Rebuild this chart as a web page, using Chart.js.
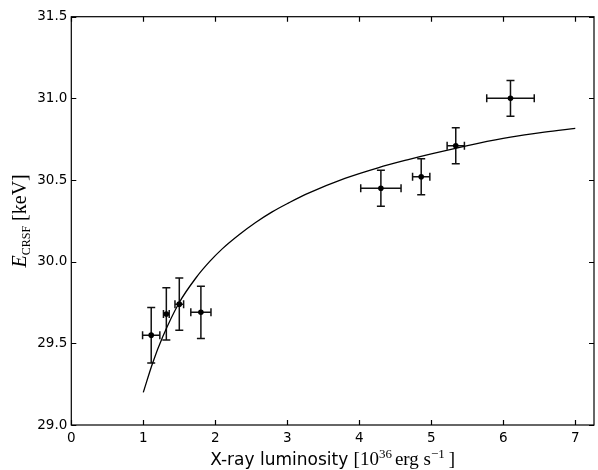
<!DOCTYPE html>
<html>
<head>
<meta charset="utf-8">
<script src="https://cdn.jsdelivr.net/npm/chart.js@4"></script>
<style>
  html, body { margin: 0; padding: 0; background: #fff; }
  #wrap { width: 598px; height: 470px; }
</style>
</head>
<body>
<div id="wrap"><canvas id="chartCrsf"></canvas></div>
<script>
// tick positions
const xTickValues = [0, 1, 2, 3, 4, 5, 6, 7];
const yTickValues = [29.0, 29.5, 30.0, 30.5, 31.0, 31.5];

// measured points: luminosity (1e36 erg/s) vs cyclotron line energy (keV)
const lumX     = [1.11, 1.32, 1.50, 1.80, 4.30, 4.86, 5.34, 6.10];
const lumErr   = [0.12, 0.04, 0.06, 0.14, 0.28, 0.12, 0.12, 0.33];
const ecrsf    = [29.55, 29.68, 29.74, 29.69, 30.45, 30.52, 30.71, 31.00];
const ecrsfErr = [0.17, 0.16, 0.16, 0.16, 0.11, 0.11, 0.11, 0.11];

// model curve
const fitX = [1.00, 1.13, 1.27, 1.50, 1.73, 1.92, 2.10, 2.33, 2.56, 2.79, 3.02, 3.27, 3.80, 4.26, 4.68, 5.00, 5.65, 6.10, 6.57, 7.00];
const fitY = [29.20, 29.38, 29.54, 29.75, 29.90, 30.00, 30.08, 30.165, 30.24, 30.305, 30.36, 30.415, 30.51, 30.575, 30.625, 30.66, 30.725, 30.763, 30.793, 30.816];

const SANS = '"DejaVu Sans", sans-serif';
const SERIF = '"Liberation Serif", "DejaVu Serif", serif';

// draws text pieces one after the other, centred on (cx, baseline)
function drawPieces(ctx, pieces, cx, baseline) {
  let total = 0;
  pieces.forEach(p => { ctx.font = p.font; p.w = ctx.measureText(p.text).width + (p.gap || 0); total += p.w; });
  let x = cx - total / 2;
  ctx.textAlign = 'left';
  ctx.textBaseline = 'alphabetic';
  pieces.forEach(p => {
    ctx.font = p.font;
    ctx.fillText(p.text, x, baseline + (p.dy || 0));
    x += p.w;
  });
}

const errorBars = {
  id: 'errorBars',
  beforeDatasetsDraw(chart) {
    const { ctx, scales: { x, y } } = chart;
    const cap = 4;
    ctx.save();
    ctx.strokeStyle = '#111';
    ctx.lineWidth = 1.5;
    lumX.forEach((lx, i) => {
      const px = x.getPixelForValue(lx);
      const py = y.getPixelForValue(ecrsf[i]);
      const x0 = x.getPixelForValue(lx - lumErr[i]);
      const x1 = x.getPixelForValue(lx + lumErr[i]);
      const y0 = y.getPixelForValue(ecrsf[i] - ecrsfErr[i]);
      const y1 = y.getPixelForValue(ecrsf[i] + ecrsfErr[i]);
      ctx.beginPath();
      ctx.moveTo(x0, py); ctx.lineTo(x1, py);
      ctx.moveTo(x0, py - cap); ctx.lineTo(x0, py + cap);
      ctx.moveTo(x1, py - cap); ctx.lineTo(x1, py + cap);
      ctx.moveTo(px, y0); ctx.lineTo(px, y1);
      ctx.moveTo(px - cap, y0); ctx.lineTo(px + cap, y0);
      ctx.moveTo(px - cap, y1); ctx.lineTo(px + cap, y1);
      ctx.stroke();
    });
    ctx.restore();
  }
};

// box frame, inward ticks on all four sides, axis titles
const frame = {
  id: 'frame',
  afterDraw(chart) {
    const { ctx, chartArea: a, scales: { x, y } } = chart;
    const tl = 5;
    ctx.save();
    ctx.strokeStyle = '#000';
    ctx.lineWidth = 1.2;
    ctx.strokeRect(a.left, a.top, a.right - a.left, a.bottom - a.top);
    ctx.beginPath();
    xTickValues.forEach(v => {
      const px = Math.round(x.getPixelForValue(v)) + 0.5;
      ctx.moveTo(px, a.bottom); ctx.lineTo(px, a.bottom - tl);
      ctx.moveTo(px, a.top); ctx.lineTo(px, a.top + tl);
    });
    yTickValues.forEach(v => {
      const py = Math.round(y.getPixelForValue(v)) + 0.5;
      ctx.moveTo(a.left, py); ctx.lineTo(a.left + tl, py);
      ctx.moveTo(a.right, py); ctx.lineTo(a.right - tl, py);
    });
    ctx.stroke();

    ctx.fillStyle = '#000';
    drawPieces(ctx, [
      { text: 'X-ray luminosity ', font: '17px ' + SANS },
      { text: '[10', font: '19px ' + SERIF },
      { text: '36', font: '13px ' + SERIF, dy: -7, gap: 3 },
      { text: 'erg s', font: '19px ' + SERIF },
      { text: '\u22121', font: '13px ' + SERIF, dy: -7, gap: 4 },
      { text: ']', font: '19px ' + SERIF }
    ], (a.left + a.right) / 2, 465);

    ctx.translate(26, (a.top + a.bottom) / 2);
    ctx.rotate(-Math.PI / 2);
    drawPieces(ctx, [
      { text: 'E', font: 'italic 20px ' + SERIF },
      { text: 'CRSF', font: '12px ' + SERIF, dy: 4, gap: 5 },
      { text: '[keV]', font: '20px ' + SERIF }
    ], 0, 0);
    ctx.restore();
  }
};

const ctxCrsf = document.getElementById('chartCrsf').getContext('2d');
new Chart(ctxCrsf, {
  type: 'scatter',
  data: {
    datasets: [
      {
        label: 'fit',
        data: fitX.map((v, i) => ({ x: v, y: fitY[i] })),
        showLine: true,
        borderColor: '#000',
        borderWidth: 1.3,
        pointRadius: 0,
        cubicInterpolationMode: 'monotone'
      },
      {
        label: 'data',
        data: lumX.map((v, i) => ({ x: v, y: ecrsf[i] })),
        backgroundColor: '#000',
        borderColor: '#000',
        pointRadius: 2.8,
        pointBorderWidth: 0
      }
    ]
  },
  options: {
    responsive: true,
    maintainAspectRatio: false,
    animation: false,
    layout: { padding: { top: 16.7, right: 0.5, left: 0, bottom: 0 } },
    plugins: { legend: { display: false }, tooltip: { enabled: false } },
    scales: {
      x: {
        type: 'linear',
        min: 0,
        max: 7.26,
        afterBuildTicks: s => { s.ticks = xTickValues.map(v => ({ value: v })); },
        afterFit: s => { s.height = 45; },
        grid: { display: false, drawTicks: false },
        border: { display: false },
        ticks: { color: '#000', padding: 5, maxRotation: 0, font: { family: 'DejaVu Sans', size: 13.5 }, callback: v => String(v) }
      },
      y: {
        type: 'linear',
        min: 29,
        max: 31.5,
        afterBuildTicks: s => { s.ticks = yTickValues.map(v => ({ value: v })); },
        afterFit: s => { s.width = 71.3; },
        grid: { display: false, drawTicks: false },
        border: { display: false },
        ticks: { color: '#000', padding: 4, font: { family: 'DejaVu Sans', size: 13.5 }, callback: v => Number(v).toFixed(1) }
      }
    }
  },
  plugins: [errorBars, frame]
});
</script>
</body>
</html>
